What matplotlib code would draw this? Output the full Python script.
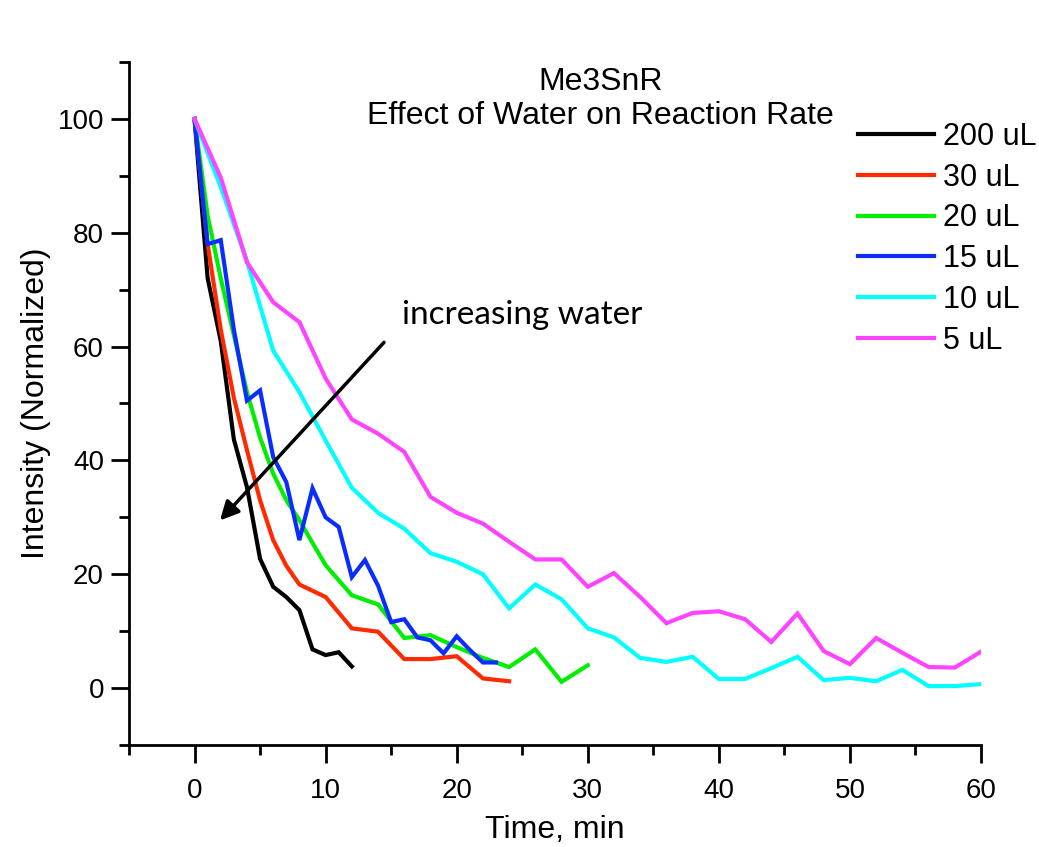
import matplotlib
matplotlib.use("Agg")
import matplotlib.pyplot as plt
from matplotlib.ticker import MultipleLocator

plt.rcParams['font.family'] = ['Liberation Sans', 'DejaVu Sans']

# 200 uL
t200 = [0, 1, 2, 3, 4, 5, 6, 7, 8, 9, 10, 11, 12]
i200 = [100, 72, 61, 43.7, 35.3, 22.7, 17.8, 16, 13.7, 6.8, 5.8, 6.3, 3.8]

# 30 uL
t30 = [0, 1, 2, 3, 4, 5, 6, 7, 8, 10, 12, 14, 16, 18, 20, 22, 24]
i30 = [100, 78, 63, 51, 41.8, 33, 26, 21.5, 18.2, 16, 10.5, 9.9, 5.1, 5.1, 5.6, 1.7, 1.2]

# 20 uL
t20 = [0, 1, 2, 3, 4, 5, 6, 7, 8, 9, 10, 12, 14, 16, 18, 20, 22, 24, 26, 28, 30]
i20 = [100, 83, 72, 62, 52, 44, 37.7, 33, 29.5, 25.5, 21.6, 16.3, 14.7, 8.8, 9.3, 7.2, 5.3, 3.7, 6.8, 1.1, 4.0]

# 15 uL
t15 = list(range(0, 24))
i15 = [100, 78, 78.7, 63, 50.5, 52.3, 40.6, 36.2, 26, 35.1, 30, 28.3, 19.5, 22.5,
       18, 11.6, 12.1, 8.9, 8.4, 6.1, 9.1, 6.7, 4.5, 4.5]

# 10 uL
t10 = [0, 2, 4, 6, 8, 10, 12, 14, 16, 18, 20, 22, 24, 26, 28, 30, 32, 34, 36, 38,
       40, 42, 44, 46, 48, 50, 52, 54, 56, 58, 60]
i10 = [100, 88, 75, 59.3, 52, 43.5, 35.2, 30.8, 28, 23.7, 22.2, 20, 14, 18.2, 15.6,
       10.5, 8.9, 5.3, 4.6, 5.5, 1.6, 1.6, 3.5, 5.5, 1.4, 1.8, 1.2, 3.2, 0.35, 0.35, 0.7]

# 5 uL
t5 = [0, 2, 4, 6, 8, 10, 12, 14, 16, 18, 20, 22, 24, 26, 28, 30, 32, 34, 36, 38,
      40, 42, 44, 46, 48, 50, 52, 54, 56, 58, 60]
i5 = [100, 89.7, 74.8, 67.8, 64.3, 54.4, 47.2, 44.7, 41.5, 33.6, 30.8, 28.9, 25.7, 22.6, 22.6,
      17.8, 20.2, 16, 11.4, 13.2, 13.5, 12.1, 8.1, 13.1, 6.5, 4.2, 8.8, 6.2, 3.7, 3.6, 6.4]

series = [
    (t200, i200, "200 uL", "#000000"),
    (t30, i30, "30 uL", "#ff2a00"),
    (t20, i20, "20 uL", "#00ee00"),
    (t15, i15, "15 uL", "#0a2dff"),
    (t10, i10, "10 uL", "#00ffff"),
    (t5, i5, "5 uL", "#ff44ff"),
]

fig = plt.figure(figsize=(10.39, 8.47), dpi=100)
ax = fig.add_axes([129 / 1039, 1 - 745 / 847, (981 - 129) / 1039, (745 - 62) / 847])

for t, y, lab, col in series:
    ax.plot(t, y, color=col, lw=3, label=lab, solid_joinstyle="miter")

ax.set_xlim(-5, 60)
ax.set_ylim(-10, 110)
ax.spines["top"].set_visible(False)
ax.spines["right"].set_visible(False)
for s in ("left", "bottom"):
    ax.spines[s].set_linewidth(2)

ax.xaxis.set_major_locator(MultipleLocator(10))
ax.xaxis.set_minor_locator(MultipleLocator(5))
ax.yaxis.set_major_locator(MultipleLocator(20))
ax.yaxis.set_minor_locator(MultipleLocator(10))
ax.set_xticks([0, 10, 20, 30, 40, 50, 60])
ax.set_yticks([0, 20, 40, 60, 80, 100])
ax.tick_params(which="major", direction="out", length=13, width=2, pad=5)
ax.tick_params(which="minor", direction="out", length=7, width=2)
ax.tick_params(axis="x", which="major", pad=11)
for lbl in ax.get_xticklabels() + ax.get_yticklabels():
    lbl.set_family(["Liberation Sans Narrow", "Liberation Sans"])
    lbl.set_fontsize(20)

ax.set_xlabel("Time, min", fontsize=23, labelpad=8)
ax.set_ylabel("Intensity (Normalized)", fontsize=23, labelpad=5)

fig.text(0.578, 1 - 82 / 847, "Me3SnR", ha="center", va="center", fontsize=23)
fig.text(0.578, 1 - 116 / 847, "Effect of Water on Reaction Rate", ha="center", va="center", fontsize=23)

ax.annotate("", xy=(1.8, 29.1), xytext=(14.6, 61.1),
            arrowprops=dict(arrowstyle="-|>", color="black", lw=2.5, mutation_scale=28))
ax.text(15.8, 65.6, "increasing water", fontsize=24, family=["Lato", "DejaVu Sans"],
        ha="left", va="center")

leg = ax.legend(loc="upper left", bbox_to_anchor=(0.841, 0.930), frameon=False, fontsize=22,
                handlelength=2.5, handletextpad=0.3, labelspacing=0.35, borderaxespad=0)

fig.savefig("out.png", dpi=100)
